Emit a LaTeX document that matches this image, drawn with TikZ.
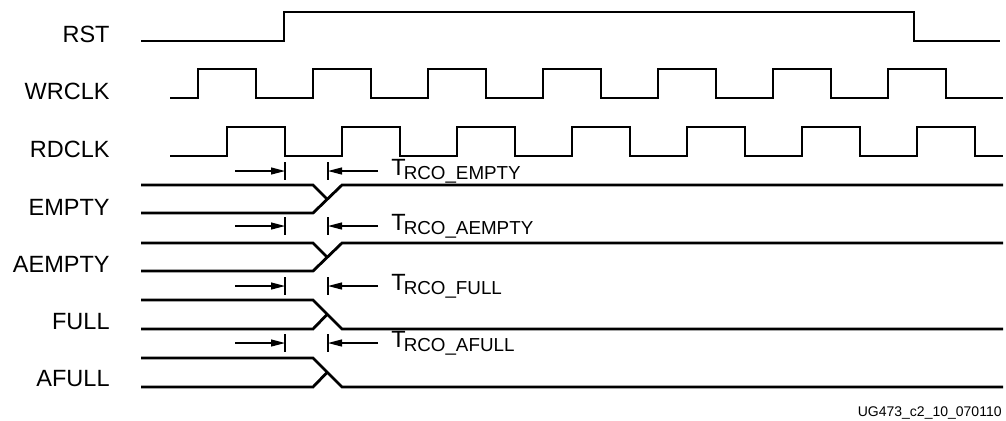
\documentclass[tikz,border=0pt]{standalone}
\usepackage{fontspec}
\setmainfont{Liberation Sans}
\usetikzlibrary{arrows.meta}

\newcommand{\tsub}[1]{\kern-1pt\raisebox{-2pt}{\fontsize{9.4}{10}\selectfont #1}}

\begin{document}
\begin{tikzpicture}[
  x=0.5pt, y=-0.5pt,
  font=\fontsize{11.75}{14}\selectfont,
  >={Stealth[length=7pt,width=3.5pt,inset=0pt]},
  sig/.style={line width=1.4pt, line join=miter},
  tick/.style={line width=0.6pt},
  dim/.style={->, line width=0.6pt},
  lbl/.style={anchor=base east, inner sep=0pt},
]
\useasboundingbox (0,0) rectangle (1006,420);

% signal names
\node[lbl] (nrst) at (110,42) {RST};
\node[lbl] (nwr) at (110,99) {WRCLK};
\node[lbl] (nrd) at (110,157) {RDCLK};
\node[lbl] (nempty) at (110,215) {EMPTY};
\node[lbl] (naempty) at (110,272) {AEMPTY};
\node[lbl] (nfull) at (110,329) {FULL};
\node[lbl] (nafull) at (110,386) {AFULL};

% reset
\draw[sig] (141,41) -- (284,41) -- (284,12) -- (914,12) -- (914,41) -- (1000,41);

% clocks
\draw[sig] (170,98) foreach \k in {0,...,6} {
  -- ({198+115*\k},98) -- ({198+115*\k},69) -- ({256+115*\k},69) -- ({256+115*\k},98)
} -- (1003,98);
\draw[sig] (170,156) foreach \k in {0,...,6} {
  -- ({227+115*\k},156) -- ({227+115*\k},127) -- ({285+115*\k},127) -- ({285+115*\k},156)
} -- (1003,156);

% flags going high
\foreach \h/\l in {185/213, 243/271} {
  \draw[sig] (141,\h) -- (313,\h) -- (327,{(\h+\l)/2});
  \draw[sig] (141,\l) -- (313,\l) -- (342,\h) -- (1003,\h);
}
% flags going low
\foreach \h/\l in {300/329, 358/387} {
  \draw[sig] (141,\l) -- (313,\l) -- (327,{(\h+\l)/2});
  \draw[sig] (141,\h) -- (313,\h) -- (342,\l) -- (1003,\l);
}

% clock-to-out times
\foreach \nm/\ya/\txt in {empty/171/EMPTY, aempty/226/AEMPTY, full/286/FULL, afull/343/AFULL} {
  \coordinate (\nm-l) at (285,\ya);
  \coordinate (\nm-r) at (328,\ya);
  \draw[tick] (285,{\ya-9}) -- (285,{\ya+9});
  \draw[tick] (328,{\ya-9}) -- (328,{\ya+9});
  \draw[dim] (235,\ya) -- (\nm-l);
  \draw[dim] (378,\ya) -- (\nm-r);
  \node[anchor=base west, inner sep=0pt] (t\nm) at (391,{\ya+4}) {T\tsub{RCO\_\txt}};
}

\node[anchor=base east, inner sep=0pt, font=\fontsize{7}{8}\selectfont] (fig) at (1002,416) {UG473\_c2\_10\_070110};

\end{tikzpicture}
\end{document}
